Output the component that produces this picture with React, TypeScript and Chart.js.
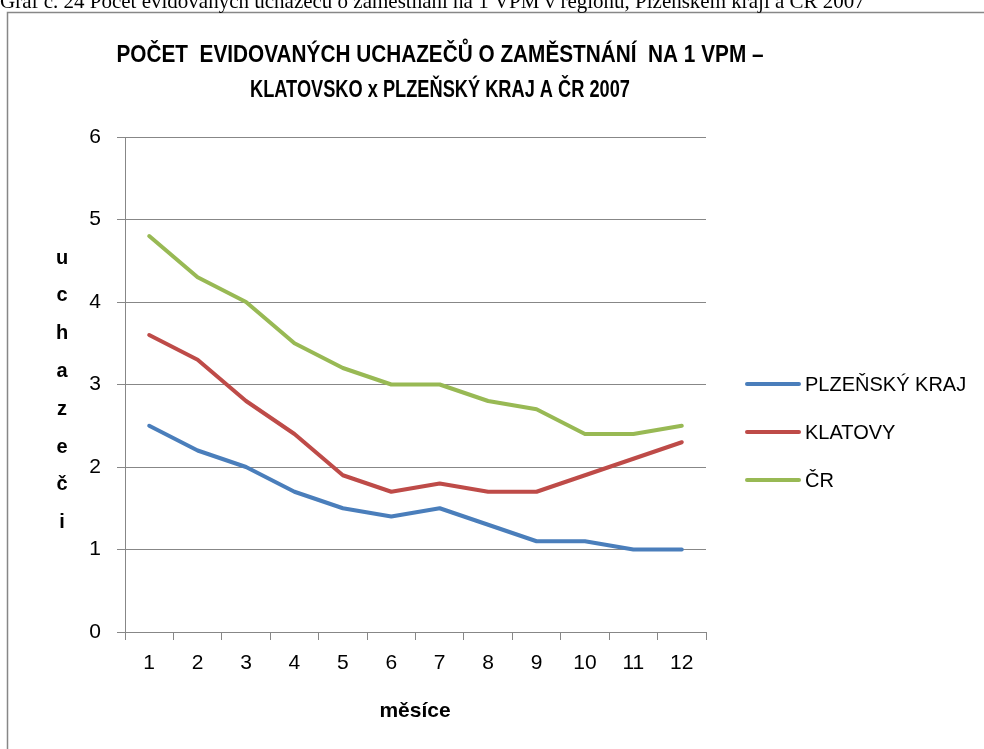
import React, { useEffect, useRef } from "react";
import { Chart, registerables } from "chart.js";

Chart.register(...registerables);

const months = ["1", "2", "3", "4", "5", "6", "7", "8", "9", "10", "11", "12"];
const plzenskyKraj = [2.5, 2.2, 2.0, 1.7, 1.5, 1.4, 1.5, 1.3, 1.1, 1.1, 1.0, 1.0];
const klatovy = [3.6, 3.3, 2.8, 2.4, 1.9, 1.7, 1.8, 1.7, 1.7, 1.9, 2.1, 2.3];
const cr = [4.8, 4.3, 4.0, 3.5, 3.2, 3.0, 3.0, 2.8, 2.7, 2.4, 2.4, 2.5];
const seriesNames = ["PLZEŇSKÝ KRAJ", "KLATOVY", "ČR"];
const seriesColors = ["#4a7ebb", "#be4b48", "#98b954"];
const caption = "Graf č. 24 Počet evidovaných uchazečů o zaměstnání na 1 VPM v regionu, Plzeňském kraji a ČR 2007";
const titleLines = ["POČET  EVIDOVANÝCH UCHAZEČŮ O ZAMĚSTNÁNÍ  NA 1 VPM –", "KLATOVSKO x PLZEŇSKÝ KRAJ A ČR 2007"];
const yTitle = "uchazeči";
const xTitle = "měsíce";

const SANS = "'Liberation Sans', Arial, sans-serif";
const GRAY = "#878787";

const decorPlugin = {
  id: "decor",
  afterDraw(chart: any) {
    const ctx = chart.ctx;
    ctx.save();
    // frame
    ctx.strokeStyle = GRAY;
    ctx.lineWidth = 1.5;
    ctx.strokeRect(7.5, 12.5, 1000, 800);
    // caption
    ctx.fillStyle = "#000";
    ctx.font = "21px 'Liberation Serif', 'Times New Roman', serif";
    ctx.textAlign = "left";
    ctx.textBaseline = "alphabetic";
    ctx.fillText(caption, 0, 8, 877);
    // title
    ctx.font = "bold 24px " + SANS;
    ctx.textAlign = "center";
    ctx.textBaseline = "middle";
    ctx.fillText(titleLines[0], 440, 55, 647);
    ctx.fillText(titleLines[1], 440, 90, 380);
    // y title (stacked letters)
    ctx.font = "bold 20px " + SANS;
    const letters = Array.from(yTitle);
    letters.forEach((ch, i) => {
      ctx.fillText(ch, 62, 258 + i * 37.8);
    });
    // x title
    ctx.font = "bold 21px " + SANS;
    ctx.fillText(xTitle, 415, 711);
    // legend
    const ys = [384, 432, 480];
    seriesNames.forEach((name, i) => {
      ctx.strokeStyle = seriesColors[i];
      ctx.lineWidth = 4;
      ctx.lineCap = "round";
      ctx.beginPath();
      ctx.moveTo(747, ys[i]);
      ctx.lineTo(799, ys[i]);
      ctx.stroke();
      ctx.fillStyle = "#000";
      ctx.font = "20px " + SANS;
      ctx.textAlign = "left";
      ctx.fillText(name, 805, ys[i] + 1);
    });
    ctx.restore();
  },
};

export default function App() {
  const ref = useRef<HTMLCanvasElement | null>(null);
  useEffect(() => {
    if (!ref.current) return;
    const data = [plzenskyKraj, klatovy, cr];
    const chart = new Chart(ref.current, {
      type: "line",
      data: {
        labels: months,
        datasets: data.map((d, i) => ({
          label: seriesNames[i],
          data: d,
          borderColor: seriesColors[i],
          backgroundColor: seriesColors[i],
          borderWidth: 4,
          borderCapStyle: "round",
          borderJoinStyle: "round",
          pointRadius: 0,
          tension: 0,
        })),
      },
      options: {
        animation: false,
        responsive: false,
        devicePixelRatio: 1,
        layout: { padding: { top: 137, right: 278, left: 0, bottom: 0 } },
        plugins: { legend: { display: false }, title: { display: false }, tooltip: { enabled: false } },
        scales: {
          x: {
            type: "category",
            offset: true,
            grid: { display: true, drawOnChartArea: false, drawTicks: true, tickLength: 8, color: GRAY, offset: true },
            border: { display: true, color: GRAY, width: 1 },
            ticks: { color: "#000", font: { family: SANS, size: 21 }, padding: 11, maxRotation: 0, autoSkip: false },
            afterFit(scale: any) {
              scale.height = 117;
            },
          },
          y: {
            min: 0,
            max: 6,
            ticks: { stepSize: 1, color: "#000", font: { family: SANS, size: 21 }, padding: 16 },
            grid: { color: GRAY, tickLength: 8, drawTicks: true },
            border: { display: true, color: GRAY, width: 1 },
            afterFit(scale: any) {
              scale.width = 125;
            },
          },
        },
      },
      plugins: [decorPlugin],
    });
    return () => chart.destroy();
  }, []);
  return (
    <div style={{ position: "fixed", left: 0, top: 0, width: 984, height: 749, background: "#fff" }}>
      <canvas ref={ref} width={984} height={749} style={{ width: 984, height: 749, display: "block" }} />
    </div>
  );
}
